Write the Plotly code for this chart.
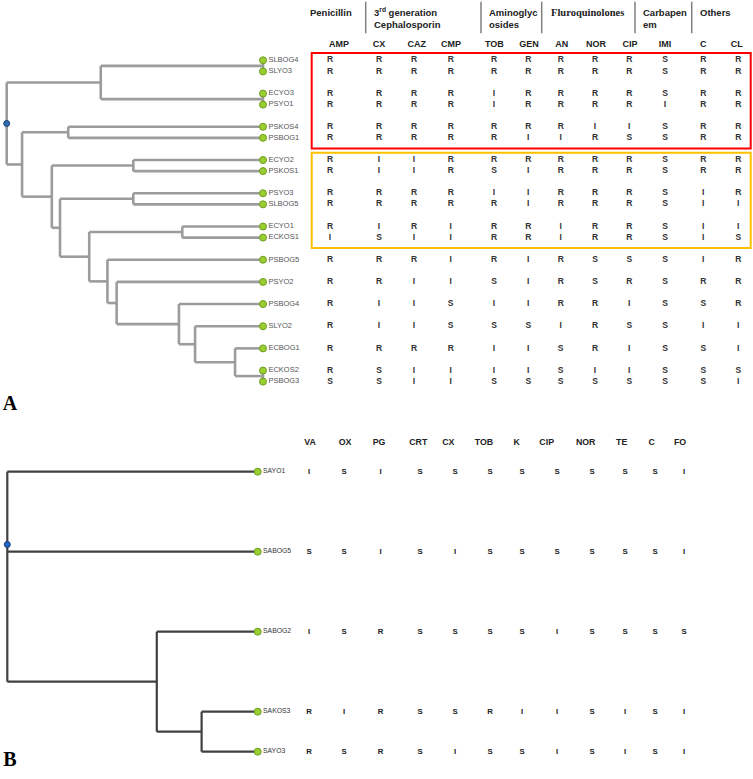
import plotly.graph_objects as go

W, H = 753, 779

# ------------------------------------------------------------------ data
# Panel A: Gram-negative isolates (leaf order of the dendrogram)
isolates_A = ["SLBOG4", "SLYO3", "ECYO3", "PSYO1", "PSKOS4", "PSBOG1",
              "ECYO2", "PSKOS1", "PSYO3", "SLBOG5", "ECYO1", "ECKOS1",
              "PSBOG5", "PSYO2", "PSBOG4", "SLYO2", "ECBOG1", "ECKOS2", "PSBOG3"]
antibiotics_A = ["AMP", "CX", "CAZ", "CMP", "TOB", "GEN", "AN", "NOR", "CIP", "IMI", "C", "CL"]
classes_A = ["Penicillin", "3<sup>rd</sup> generation<br>Cephalosporin", "Aminoglyc<br>osides",
             "Fluroquinolones", "Carbapen<br>em", "Others"]
profiles_A = ["RRRRRRRRRSRR", "RRRRRRRRRSRR", "RRRRIRRRRSRR", "RRRRIRRRRIRR",
              "RRRRRRRIISRR", "RRRRRIIRSSRR", "RIIRRRRRRSRR", "RIIRSIRRRSRR",
              "RRRRIIRRRSIR", "RRRRRIRRRSII", "RIRIRRIRRSII", "ISIIRRIRRSIS",
              "RRRIRIRSSSIR", "RRIISIRSRSRR", "RIISIIRRISSR", "RIISSSIRSSII",
              "RRRRIISRISSI", "RSIIIISIISSS", "SSIISSSSSSSI"]
# dendrogram A: (height, child, child, ...) ; leaves are names
tree_A = (1.000,
          (0.633, (0.0, "SLBOG4", "SLYO3"), (0.0, "ECYO3", "PSYO1")),
          (0.940,
           (0.760, "PSKOS4", "PSBOG1"),
           (0.824,
            (0.506, "ECYO2", "PSKOS1"),
            (0.792,
             (0.506, "PSYO3", "SLBOG5"),
             (0.678,
              (0.315, "ECYO1", "ECKOS1"),
              (0.607,
               "PSBOG5",
               (0.571,
                "PSYO2",
                (0.328,
                 "PSBOG4",
                 (0.265,
                  "SLYO2",
                  (0.109, "ECBOG1", (0.0, "ECKOS2", "PSBOG3")))))))))))

# Panel B: S. aureus isolates
isolates_B = ["SAYO1", "SABOG5", "SABOG2", "SAKOS3", "SAYO3"]
antibiotics_B = ["VA", "OX", "PG", "CRT", "CX", "TOB", "K", "CIP", "NOR", "TE", "C", "FO"]
profiles_B = ["ISISSSSSSSSI", "SSISISSSSSSI", "ISRSSSSISSSS", "RIRSSRIISISI", "RSRSISSISISI"]
tree_B = (1.000, "SAYO1", "SABOG5", (0.403, "SABOG2", (0.224, "SAKOS3", "SAYO3")))

# ------------------------------------------------------------------ layout constants
A_ROOT_PX, A_LEAF_PX = 6.7, 263.0
A_ROW0_PX, A_ROW_PX = 60.3, 11.08
row_steps_A = [1, 2, 1, 2, 1, 2, 1, 2, 1, 2, 1, 2, 2, 2, 2, 2, 2, 1]
B_ROOT_PX, B_LEAF_PX = 7.3, 257.7
B_ROW0_PX, B_ROW_PX = 471.7, 80.0
row_steps_B = [1, 1, 1, 0.5]
B_ROOT_DOT_SHIFT = -0.09  # root marker sits just above 2nd branch

colA_val_px = [330, 379, 414, 450.7, 494, 528.3, 560.7, 595, 629.3, 665, 703.3, 738.3]
colA_hdr_px = [339, 379, 416.7, 451, 494.3, 529, 561.7, 596, 630, 665, 703.3, 736.7]
classA_px = [308.3, 371.7, 486.7, 549.3, 640.7, 697.7]
sepA_px = [365.7, 481, 541.7, 635, 691.7]
colB_val_px = [309, 344, 380.6, 420, 455, 490, 522, 557, 592, 625, 655, 684]
colB_hdr_px = [310, 345, 379, 418.3, 448.3, 484, 516.7, 546.7, 585.7, 621.7, 651.7, 680]

SANS = "Liberation Sans, Arial, sans-serif"
SERIF = "Liberation Serif, Times New Roman, serif"


def rows_from_steps(names, steps):
    r, out = 0.0, {}
    for i, n in enumerate(names):
        out[n] = r
        if i < len(steps):
            r += steps[i]
    return out


def dendro(node, rows, xs, ys):
    if isinstance(node, str):
        return 0.0, rows[node]
    h = node[0]
    kids = [dendro(c, rows, xs, ys) for c in node[1:]]
    cy = [k[1] for k in kids]
    xs += [h, h, None]
    ys += [min(cy), max(cy), None]
    for kh, ky in kids:
        xs += [h, kh, None]
        ys += [ky, ky, None]
    return h, (min(cy) + max(cy)) / 2


def lin_range(v0, p0, v1, p1, total, flip=False):
    s = (v1 - v0) / (p1 - p0)
    a, b = v0 - p0 * s, v0 + (total - p0) * s
    return [b, a] if flip else [a, b]


rowsA = rows_from_steps(isolates_A, row_steps_A)
rowsB = rows_from_steps(isolates_B, row_steps_B)

fig = go.Figure()

# ---------------- Panel A dendrogram
xs, ys = [], []
rootA_h, rootA_y = dendro(tree_A, rowsA, xs, ys)
fig.add_trace(go.Scatter(x=xs, y=ys, mode="lines", xaxis="x", yaxis="y",
                         line=dict(color="#9c9c9c", width=2.6), hoverinfo="skip"))
fig.add_trace(go.Scatter(x=[0.0] * len(isolates_A), y=[rowsA[n] for n in isolates_A],
                         mode="markers+text", text=isolates_A, textposition="middle right",
                         textfont=dict(family=SANS, size=7.5, color="#555555"),
                         marker=dict(size=7, color="#9ACD32", line=dict(color="#6E9E1E", width=1)),
                         xaxis="x", yaxis="y", cliponaxis=False, hoverinfo="skip"))
fig.add_trace(go.Scatter(x=[rootA_h], y=[rootA_y], mode="markers", xaxis="x", yaxis="y",
                         marker=dict(size=6, color="#2F6DB5", line=dict(color="#1F3F6F", width=1)),
                         hoverinfo="skip"))

# ---------------- Panel A table
tx, ty, tt = [], [], []
for i, n in enumerate(isolates_A):
    for j, v in enumerate(profiles_A[i]):
        tx.append(colA_val_px[j]); ty.append(rowsA[n]); tt.append(v)
fig.add_trace(go.Scatter(x=tx, y=ty, text=tt, mode="text", xaxis="x2", yaxis="y",
                         texttemplate="<b>%{text}</b>",
                         textfont=dict(family=SANS, size=8.5, color="#333333"),
                         cliponaxis=False, hoverinfo="skip"))
fig.add_trace(go.Scatter(x=colA_hdr_px, y=[44.3] * len(antibiotics_A), text=antibiotics_A,
                         mode="text", xaxis="x2", yaxis="y3",
                         textfont=dict(family=SANS, size=9, color="#222222"),
                         texttemplate="<b>%{text}</b>", cliponaxis=False, hoverinfo="skip"))

for k, (lab, px) in enumerate(zip(classes_A, classA_px)):
    two = "<br>" in lab
    serif = lab == "Fluroquinolones"
    fig.add_annotation(x=px, y=18.4 if two else 12.0, xref="x2", yref="y3",
                       text="<b>" + lab + "</b>", showarrow=False, xanchor="left", yanchor="middle",
                       align="left",
                       font=dict(family=SERIF if serif else SANS, size=10.5 if serif else 9.5,
                                 color="#222222"))
for px in sepA_px:
    fig.add_shape(type="line", x0=px, x1=px, y0=1.7, y1=33.3, xref="x2", yref="y3",
                  line=dict(color="#7f7f7f", width=1.5))

# cluster boxes (red: first 6 isolates, orange: next 6)
boxes = [(isolates_A[0], isolates_A[5], "#FF0000"), (isolates_A[6], isolates_A[11], "#FFC000")]
for top, bot, col in boxes:
    fig.add_shape(type="rect", x0=311.7, x1=750.7, y0=rowsA[top] - 0.65, y1=rowsA[bot] + 0.95,
                  xref="x2", yref="y", line=dict(color=col, width=2), fillcolor="rgba(0,0,0,0)")

# ---------------- Panel B dendrogram
xs, ys = [], []
rootB_h, _ = dendro(tree_B, rowsB, xs, ys)
fig.add_trace(go.Scatter(x=xs, y=ys, mode="lines", xaxis="x3", yaxis="y2",
                         line=dict(color="#404040", width=2.2), hoverinfo="skip"))
fig.add_trace(go.Scatter(x=[0.0] * len(isolates_B), y=[rowsB[n] for n in isolates_B],
                         mode="markers+text", text=isolates_B, textposition="middle right",
                         textfont=dict(family=SANS, size=6.8, color="#333333"),
                         marker=dict(size=7, color="#9ACD32", line=dict(color="#6E9E1E", width=1)),
                         xaxis="x3", yaxis="y2", cliponaxis=False, hoverinfo="skip"))
fig.add_trace(go.Scatter(x=[rootB_h], y=[rowsB[isolates_B[1]] + B_ROOT_DOT_SHIFT], mode="markers",
                         xaxis="x3", yaxis="y2",
                         marker=dict(size=6, color="#1E66C8", line=dict(color="#173A6E", width=1)),
                         hoverinfo="skip"))

# ---------------- Panel B table
tx, ty, tt = [], [], []
for i, n in enumerate(isolates_B):
    for j, v in enumerate(profiles_B[i]):
        tx.append(colB_val_px[j]); ty.append(rowsB[n]); tt.append(v)
fig.add_trace(go.Scatter(x=tx, y=ty, text=tt, mode="text", xaxis="x2", yaxis="y2",
                         texttemplate="<b>%{text}</b>",
                         textfont=dict(family=SANS, size=7.8, color="#222222"),
                         cliponaxis=False, hoverinfo="skip"))
fig.add_trace(go.Scatter(x=colB_hdr_px, y=[442.7] * len(antibiotics_B), text=antibiotics_B,
                         mode="text", xaxis="x2", yaxis="y3", texttemplate="<b>%{text}</b>",
                         textfont=dict(family=SANS, size=8.8, color="#222222"),
                         cliponaxis=False, hoverinfo="skip"))

# panel letters
fig.add_trace(go.Scatter(x=[10, 10], y=[405, 761], text=["A", "B"], mode="text",
                         xaxis="x2", yaxis="y3", texttemplate="<b>%{text}</b>",
                         textfont=dict(family=SERIF, size=20, color="#000000"),
                         cliponaxis=False, hoverinfo="skip"))

hidden = dict(visible=False, showgrid=False, zeroline=False, fixedrange=True)
fig.update_layout(
    width=W, height=H, autosize=False, showlegend=False,
    margin=dict(l=0, r=0, t=0, b=0, pad=0),
    paper_bgcolor="white", plot_bgcolor="white",
    xaxis=dict(range=lin_range(1.0, A_ROOT_PX, 0.0, A_LEAF_PX, W), domain=[0, 1], **hidden),
    xaxis2=dict(range=[0, W], overlaying="x", **hidden),
    xaxis3=dict(range=lin_range(1.0, B_ROOT_PX, 0.0, B_LEAF_PX, W), overlaying="x", **hidden),
    yaxis=dict(range=lin_range(0.0, A_ROW0_PX, 1.0, A_ROW0_PX + A_ROW_PX, H, flip=True),
               domain=[0, 1], **hidden),
    yaxis2=dict(range=lin_range(0.0, B_ROW0_PX, 1.0, B_ROW0_PX + B_ROW_PX, H, flip=True),
                overlaying="y", **hidden),
    yaxis3=dict(range=[H, 0], overlaying="y", **hidden),
)

fig.write_html("out.html",
               post_script="document.body.style.margin='0px';document.body.style.overflow='hidden';",
               config={"displayModeBar": False})
